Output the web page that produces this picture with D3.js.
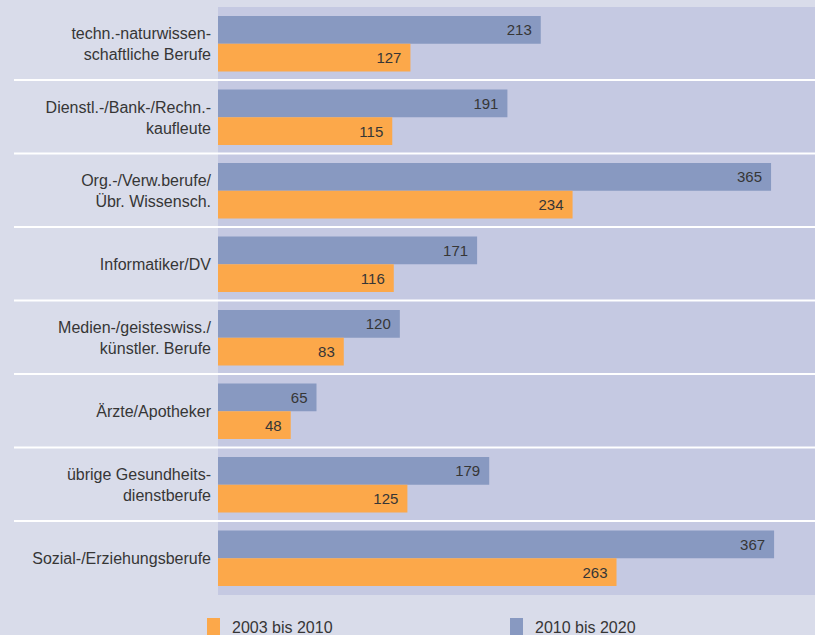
<!DOCTYPE html>
<html>
<head>
<meta charset="utf-8">
<style>
  body { margin: 0; background: #d9dcea; }
  svg { display: block; }
  text { font-family: "Liberation Sans", Arial, sans-serif; fill: #363636; }
</style>
</head>
<body>
<svg width="815" height="635"></svg>
<script src="https://d3js.org/d3.v7.min.js"></script>
<script>
  // data
  var categories = [
    ["techn.-naturwissen-", "schaftliche Berufe"],
    ["Dienstl.-/Bank-/Rechn.-", "kaufleute"],
    ["Org.-/Verw.berufe/", "Übr. Wissensch."],
    ["Informatiker/DV"],
    ["Medien-/geisteswiss./", "künstler. Berufe"],
    ["Ärzte/Apotheker"],
    ["übrige Gesundheits-", "dienstberufe"],
    ["Sozial-/Erziehungsberufe"]
  ];
  var series = ["2010 bis 2020", "2003 bis 2010"];
  var values2010 = [213, 191, 365, 171, 120, 65, 179, 367];
  var values2003 = [127, 115, 234, 116, 83, 48, 125, 263];
  var colors = {"2010 bis 2020": "#8899c1", "2003 bis 2010": "#fca84a"};
  var legendOrder = ["2003 bis 2010", "2010 bis 2020"];

  var svg = d3.select("svg");
  var plot = {left: 218, right: 815, top: 7, bottom: 595};

  var keys = categories.map(function (c, i) { return i; });
  var y = d3.scaleBand().domain(keys).range([plot.top, plot.bottom]);
  var ySub = d3.scaleBand().domain(series).range([9, 64.5]);
  var x = d3.scaleLinear().domain([0, 394]).range([plot.left, plot.right]);

  // plot background
  svg.append("rect")
    .attr("x", plot.left).attr("y", plot.top)
    .attr("width", plot.right - plot.left).attr("height", plot.bottom - plot.top)
    .attr("fill", "#c5c9e2");

  // separators
  svg.selectAll(".sep").data(keys.slice(1)).enter().append("line")
    .attr("x1", 14).attr("x2", 815)
    .attr("y1", function (d) { return y(d) - 0.5; })
    .attr("y2", function (d) { return y(d) - 0.5; })
    .attr("stroke", "#ffffff").attr("stroke-width", 2);

  var rows = [];
  keys.forEach(function (i) {
    rows.push({i: i, s: "2010 bis 2020", v: values2010[i]});
    rows.push({i: i, s: "2003 bis 2010", v: values2003[i]});
  });

  svg.selectAll(".bar").data(rows).enter().append("rect")
    .attr("x", x(0))
    .attr("y", function (d) { return y(d.i) + ySub(d.s); })
    .attr("width", function (d) { return x(d.v) - x(0); })
    .attr("height", ySub.bandwidth())
    .attr("fill", function (d) { return colors[d.s]; });

  svg.selectAll(".val").data(rows).enter().append("text")
    .attr("x", function (d) { return x(d.v) - 9; })
    .attr("y", function (d) { return y(d.i) + ySub(d.s) + ySub.bandwidth() / 2; })
    .attr("dy", "0.36em")
    .attr("text-anchor", "end")
    .style("font-size", "15px")
    .text(function (d) { return d.v; });

  // category labels
  var lab = svg.selectAll(".cat").data(keys).enter().append("text")
    .attr("text-anchor", "end")
    .style("font-size", "16px")
    .attr("x", 211)
    .attr("y", function (d) { return y(d) + y.bandwidth() / 2; });
  lab.each(function (d) {
    var lines = categories[d];
    var t = d3.select(this);
    lines.forEach(function (l, j) {
      t.append("tspan")
        .attr("x", 211)
        .attr("dy", j === 0 ? (0.36 * 16 - (lines.length - 1) * 10.5) + "px" : "21px")
        .text(l);
    });
  });

  // legend
  var legX = d3.scaleOrdinal().domain(legendOrder).range([207, 510]);
  var leg = svg.selectAll(".leg").data(legendOrder).enter().append("g")
    .attr("transform", function (d) { return "translate(" + legX(d) + ",618)"; });
  leg.append("rect").attr("width", 13).attr("height", 17)
    .attr("fill", function (d) { return colors[d]; });
  leg.append("text").attr("x", 25).attr("y", 15)
    .style("font-size", "16px")
    .text(function (d) { return d; });
</script>
</body>
</html>
